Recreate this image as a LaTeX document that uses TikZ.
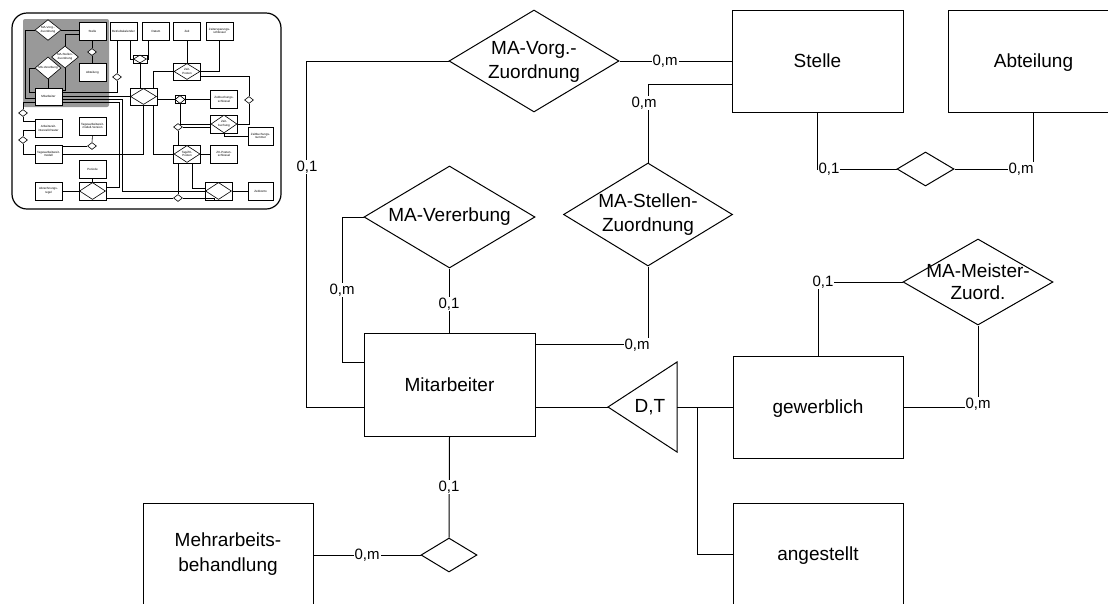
\documentclass[tikz,border=0pt]{standalone}
\usepackage{fontspec}
\setmainfont{Liberation Sans}
\usetikzlibrary{shapes.geometric}
\begin{document}
\begin{tikzpicture}[x=1pt,y=-1pt,line width=1pt,
  ent/.style={draw, minimum width=171pt, minimum height=102pt, inner sep=0pt, align=center, font=\fontsize{19}{25}\selectfont},
  rel/.style={draw, diamond, inner sep=0pt},
  reltext/.style={align=center, inner sep=0pt, font=\fontsize{19}{24}\selectfont},
  card/.style={fill=white, inner sep=1pt, font=\fontsize{15}{18}\selectfont},
  tb/.style={draw, fill=white, line width=0.6pt, minimum width=27pt, minimum height=18pt, inner sep=0pt, align=center, font=\fontsize{3}{3.6}\selectfont},
  td/.style={draw, fill=white, diamond, line width=0.6pt, inner sep=0pt, align=center, font=\fontsize{3}{3.6}\selectfont},
  tl/.style={line width=0.6pt}]
\useasboundingbox (0,0) rectangle (1108,603);
\clip (0,0) rectangle (1108,603);

% ---------------- thumbnail ----------------
\draw[line width=1.2pt, rounded corners=15pt] (12,13) rectangle (281,209);
\fill[black!40, rounded corners=2pt] (23,19) rectangle (109,107);
\node[tb] (t1) at (92.5,31) {Stelle};
\node[tb] (t2) at (92.5,72.5) {Abteilung};
\node[tb, minimum height=17pt] (t3) at (48.5,96.5) {Mitarbeiter};
\node[tb] (t4) at (123.5,31) {Betriebskalender};
\node[tb] (t5) at (156,31) {Datum};
\node[tb] (t6) at (187,31) {Zeit};
\node[tb] (t7) at (219.5,31) {Zeitersparungs-\\schl\"ussel};
\node[tb, minimum height=17pt] (t8) at (187,71.5) {};
\node[td, minimum width=26pt, minimum height=16pt] (t8d) at (t8.center) {Zeit-\\Posten};
\node[tb, minimum height=17pt] (t9) at (143.5,96.5) {};
\node[td, minimum width=26pt, minimum height=16pt] (t9d) at (t9.center) {};
\node[tb] (t10) at (224,99.5) {Zeitbuchungs-\\schl\"ussel};
\node[tb] (t11) at (224,124) {};
\node[td, minimum width=26pt, minimum height=17pt] (t11d) at (t11.center) {Zeit-\\buchung};
\node[tb, minimum width=25pt] (t12) at (260.5,136) {Zeitbuchungs-\\nummer};
\node[tb] (t13) at (48.5,128.5) {Arbeitszeit-\\intervall-Raster};
\node[tb] (t14) at (92.5,126) {Tagesarbeitszeit-\\modell-Version};
\node[tb] (t15) at (48.5,154) {Tagesarbeitszeit-\\modell};
\node[tb] (t16) at (187,154) {};
\node[td, minimum width=26pt, minimum height=17pt] (t16d) at (t16.center) {Tag/ZK-\\Posten};
\node[tb] (t17) at (224,154) {ZK-Posten-\\schl\"ussel};
\node[tb] (t18) at (92.5,169) {Periode};
\node[tb] (t19) at (92.5,191) {};
\node[td, minimum width=26pt, minimum height=17pt] (t19d) at (t19.center) {};
\node[tb] (t20) at (48.5,191) {Abrechnungs-\\regel};
\node[tb] (t21) at (218.5,191) {};
\node[td, minimum width=26pt, minimum height=17pt] (t21d) at (t21.center) {};
\node[tb, minimum width=25pt] (t22) at (260.5,191) {Zeitkonto};
\node[tb, minimum width=14pt, minimum height=8pt] (t23) at (140,59) {};
\node[td, minimum width=13pt, minimum height=8pt] (t23d) at (t23.center) {};
\node[tb, minimum width=10pt, minimum height=8pt] (t24) at (180,99.5) {};
\node[td, minimum width=10pt, minimum height=8pt] (t24d) at (t24.center) {};
\node[td, minimum width=26pt, minimum height=15pt] (D1) at (48,30) {MA-Vorg.-\\Zuordnung};
\node[td, minimum width=27pt, minimum height=16pt] (D2) at (65,57) {MA-Stellen-\\Zuordnung};
\node[td, minimum width=26pt, minimum height=14pt] (D3) at (48,68) {MA-Vererbung};
\node[td, minimum width=9pt, minimum height=7pt] (d1) at (92,52) {};
\node[td, minimum width=9pt, minimum height=7pt] (d2) at (117,77) {};
\node[td, minimum width=9pt, minimum height=7pt] (d3) at (249,100) {};
\node[td, minimum width=9pt, minimum height=7pt] (d4) at (178,127) {};
\node[td, minimum width=9pt, minimum height=7pt] (d5) at (23,113) {};
\node[td, minimum width=9pt, minimum height=7pt] (d6) at (23,140) {};
\node[td, minimum width=9pt, minimum height=7pt] (d7) at (92,146) {};
\node[td, minimum width=9pt, minimum height=7pt] (d8) at (178,198) {};
\begin{scope}[tl]
\draw (D1.west) -- ++(-9,0) |- ([yshift=-2pt]t3.west);
\draw (D1.east) -- (D1.east -| t1.west);
\draw (D2.north) |- ([yshift=-3pt]t1.west);
\draw (D2.south) |- ([yshift=6.5pt]t3.east);
\draw (D3.west) -- ++(-5,0) |- ([yshift=4pt]t3.west);
\draw (D3.south) -- (D3.south |- t3.north);
\draw (t1.south -| d1.north) -- (d1.north);
\draw (d1.south) -- (d1.south |- t2.north);
\draw (d2.north |- t4.south) -- (d2.north);
\draw (d2.south) |- ([yshift=4.5pt]t3.east);
\draw ([xshift=6.5pt]t4.south) |- (t23.west);
\draw ([xshift=-8pt]t5.south) |- (t23.east);
\draw (t23.south) -- (t23.south |- t9.north);
\draw (t6.south) -- (t8.north);
\draw (t8.west) -| ([xshift=9.5pt]t9.north);
\draw (t7.south) |- (t8.east);
\draw ([yshift=-5pt]t8.east) -| (d3.north);
\draw (d3.south) |- (t11.east);
\draw (t3.east) -- (t9.west);
\draw ([yshift=-3pt]t3.east) -| ([xshift=-82pt]t21.west) -- (t21.west);
\draw ([yshift=-6pt]t3.east) -| ([xshift=13pt,yshift=4pt]t19.east) -- ([yshift=4pt]t19.east);
\draw ([yshift=-3pt]t9.east) -- (t24.west);
\draw (t24.east) -- (t10.west);
\draw (t24.south) |- (t11.west);
\draw (t11.south) |- (t12.west);
\draw (d4.east) -- (d4.east -| t11.west);
\draw (d4.south) -- (d4.south |- t16.north);
\draw (t9.south) |- (t15.east);
\draw ([xshift=9.5pt]t9.south) |- (t16.west);
\draw (t16.east) -- (t17.west);
\draw ([xshift=5pt]t16.south) |- ([yshift=3pt]t21.west);
\draw ([xshift=-9pt]t16.south) -- (d8.north);
\draw (d8.west) -- (d8.west -| t19.east);
\draw (d8.east) -| ([xshift=-4pt]t21.south);
\draw (t21.east) -- (t22.west);
\draw (t18.south) -- (t19.north);
\draw (t20.east) -- (t19.west);
\draw (t14.south) -- (d7.north);
\draw (d7.west) -- (d7.west -| t15.east);
\draw ([yshift=-6pt]t3.west) -| (d5.north);
\draw (d5.south) |- ([yshift=7.5pt]t13.west);
\draw ([yshift=-2pt]t13.west) -| (d6.north);
\draw (d6.south) |- (t15.west);
\end{scope}

% ---------------- main diagram ----------------
\node[ent] (stelle) at (817.5,61) {Stelle};
\node[ent, text depth=0pt] (abt) at (1033.5,61) {Abteilung};
\node[ent, minimum height=103pt] (mit) at (449.5,384.5) {Mitarbeiter};
\node[ent, minimum width=170pt, text depth=0pt] (gew) at (818,407) {gewerblich};
\node[ent, minimum width=170pt, text depth=0pt] (ang) at (818,554) {angestellt};
\node[ent, minimum width=170pt] (mehr) at (228,554) {Mehrarbeits-\\behandlung};

\node[rel, minimum width=170pt, minimum height=102pt] (vorg) at (534,61) {};
\node[reltext] (vorgt) at (534,62) {MA-Vorg.-\\Zuordnung};
\node[rel, minimum width=169pt, minimum height=103pt] (stz) at (648,214.5) {};
\node[reltext] (stzt) at (648,215) {MA-Stellen-\\Zuordnung};
\node[rel, minimum width=171pt, minimum height=102pt] (ver) at (449.5,217) {};
\node[reltext] (vert) at (449.5,217) {MA-Vererbung};
\node[rel, minimum width=57pt, minimum height=34pt] (sa) at (925.5,169) {};
\node[rel, minimum width=150pt, minimum height=86pt] (mei) at (978,282) {};
\node[reltext, font=\fontsize{19}{22}\selectfont] (meit) at (978,282) {MA-Meister-\\Zuord.};
\node[rel, minimum width=56pt, minimum height=34pt] (mb) at (449,555) {};

\coordinate (tip) at (608,407);
\coordinate (trt) at (677,362);
\coordinate (trb) at (677,452);
\coordinate (trr) at (677,407);
\coordinate (br) at (697,407);
\draw (tip) -- (trt) -- (trb) -- cycle;
\node[reltext] (dt) at (650,407) {D,T};

% connectors
\draw (vorg.east) -- (vorg.east -| stelle.west);
\draw (vorg.west) -- ++(-142,0) |- ([yshift=-22.5pt]mit.west);
\draw (stz.north) |- ([yshift=-23pt]stelle.west);
\draw (stz.south) |- ([yshift=40.5pt]mit.east);
\draw (ver.west) -- ++(-21,0) |- ([yshift=22.5pt]mit.west);
\draw (ver.south) -- (ver.south |- mit.north);
\draw ([yshift=-22.5pt]mit.east) -- (tip);
\draw (trr) -- (gew.west);
\draw (br) |- (ang.west);
\draw (stelle.south) |- (sa.west);
\draw (sa.east) -| (abt.south);
\draw (gew.north) |- (mei.west);
\draw (gew.east) -| (mei.south);
\draw (mit.south) -- (mb.north);
\draw (mb.west) -- (mb.west -| mehr.east);

% cardinalities
\node[card] (c1) at (665,61) {0,m};
\node[card] (c2) at (307,167) {0,1};
\node[card] (c3) at (644,103) {0,m};
\node[card] (c4) at (637,345) {0,m};
\node[card] (c5) at (342,290) {0,m};
\node[card] (c6) at (449,304) {0,1};
\node[card] (c7) at (829,169) {0,1};
\node[card] (c8) at (1021,169) {0,m};
\node[card] (c9) at (823,282) {0,1};
\node[card] (c10) at (978,404) {0,m};
\node[card] (c11) at (449,487) {0,1};
\node[card] (c12) at (367,555) {0,m};
\end{tikzpicture}
\end{document}
